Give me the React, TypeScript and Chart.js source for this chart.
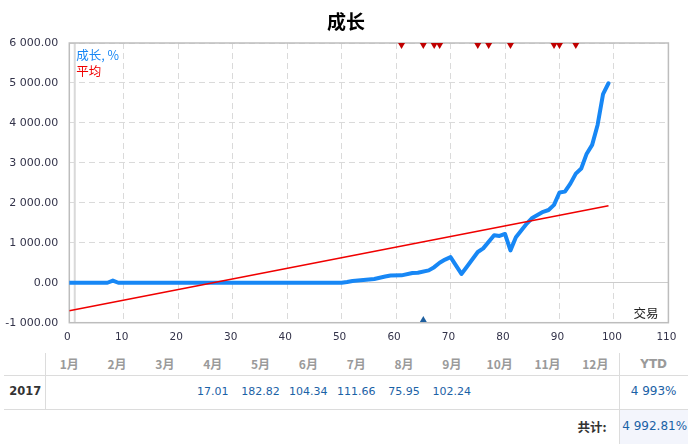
import React, { useEffect, useRef } from "react";
import { Chart, registerables } from "chart.js";

Chart.register(...registerables);

// ---- data ----
const chartTitle = "成长";
const growthLabel = "成长, %";
const averageLabel = "平均";
const tradeLabel = "交易";

const growthX = [0, 7, 8, 9, 50, 51, 52, 54, 56, 58, 59, 61, 63, 64, 66, 67, 68, 69, 70, 72, 73, 75, 76, 78, 79, 80, 81, 82, 84, 85, 87, 88, 89, 90, 91, 92, 93, 94, 95, 96, 97, 98, 99];
const growthY = [0, 0, 55, 0, 0, 20, 45, 67, 95, 155, 180, 185, 245, 250, 310, 390, 500, 580, 640, 220, 400, 770, 860, 1190, 1170, 1220, 810, 1140, 1480, 1620, 1775, 1820, 1950, 2260, 2280, 2480, 2730, 2860, 3230, 3450, 3950, 4720, 4993];

const averageX = [0, 99];
const averageY = [-700, 1925];

const sellTradeX = [61, 65, 67, 68, 75, 77, 81, 89, 90, 93];
const sellTradeLevel = 5950;
const buyTradeX = [65];
const buyTradeLevel = -935;
const firstDayX = 1;

const xMin = 0;
const xMax = 110;
const xStep = 10;
const yMin = -1000;
const yMax = 6000;
const yStep = 1000;

const months = ["1月", "2月", "3月", "4月", "5月", "6月", "7月", "8月", "9月", "10月", "11月", "12月"];
const rowYear = "2017";
const monthValues = ["", "", "", "17.01", "182.82", "104.34", "111.66", "75.95", "102.24", "", "", ""];
const ytdHeader = "YTD";
const ytdValue = "4 993%";
const totalLabel = "共计:";
const totalValue = "4 992.81%";

// ---- helpers ----
const fmt = (v: number) => {
  const s = Math.abs(v).toFixed(2);
  const [i, d] = s.split(".");
  const ii = i.replace(/\B(?=(\d{3})+(?!\d))/g, " ");
  return (v < 0 ? "-" : "") + ii + "." + d;
};

const BLUE = "#1787f5";
const RED = "#f00000";
const CJK = '"Noto Sans CJK SC", "DejaVu Sans", sans-serif';
const NUM = '"DejaVu Sans", sans-serif';

const overlayPlugin = {
  id: "overlay",
  beforeDatasetsDraw(chart: any) {
    const { ctx, chartArea, scales } = chart;
    const { left, top, right, bottom } = chartArea;
    ctx.save();
    const px = scales.x.getPixelForValue(firstDayX);
    ctx.strokeStyle = "#d9d9d9";
    ctx.lineWidth = 2;
    ctx.beginPath();
    ctx.moveTo(px, top);
    ctx.lineTo(px, bottom);
    ctx.stroke();
    ctx.strokeStyle = "#bdbdbd";
    ctx.lineWidth = 1.5;
    ctx.strokeRect(left, top, right - left, bottom - top);
    ctx.restore();
  },
  afterDraw(chart: any) {
    const { ctx, chartArea } = chart;
    const { left, right, bottom } = chartArea;
    ctx.save();
    ctx.textBaseline = "middle";
    ctx.fillStyle = "#000";
    ctx.font = `bold 19px ${CJK}`;
    ctx.textAlign = "center";
    ctx.fillText(chartTitle, 346, 22);

    ctx.textAlign = "left";
    ctx.font = `12.5px ${CJK}`;
    ctx.fillStyle = BLUE;
    ctx.fillText(growthLabel, left + 7, 55);
    ctx.fillStyle = RED;
    ctx.fillText(averageLabel, left + 7, 71);

    ctx.fillStyle = "#222";
    ctx.textAlign = "right";
    ctx.font = `12.5px ${CJK}`;
    ctx.fillText(tradeLabel, right - 10, bottom - 9);
    ctx.restore();
  },
};

function ChartCanvas() {
  const ref = useRef<HTMLCanvasElement | null>(null);
  useEffect(() => {
    if (!ref.current) return;
    const chart = new Chart(ref.current, {
      type: "scatter",
      data: {
        datasets: [
          {
            label: "sell",
            data: sellTradeX.map((x) => ({ x, y: sellTradeLevel })),
            pointStyle: "triangle",
            rotation: 180,
            pointRadius: 4,
            pointHoverRadius: 4,
            backgroundColor: "#c00000",
            borderWidth: 0,
            clip: false,
          } as any,
          {
            label: "buy",
            data: buyTradeX.map((x) => ({ x, y: buyTradeLevel })),
            pointStyle: "triangle",
            rotation: 0,
            pointRadius: 4,
            pointHoverRadius: 4,
            backgroundColor: "#1d5f9f",
            borderWidth: 0,
            clip: false,
          } as any,
          {
            label: averageLabel,
            data: averageX.map((x, i) => ({ x, y: averageY[i] })),
            showLine: true,
            borderColor: RED,
            borderWidth: 1.6,
            pointRadius: 0,
            tension: 0,
          } as any,
          {
            label: growthLabel,
            data: growthX.map((x, i) => ({ x, y: growthY[i] })),
            showLine: true,
            borderColor: BLUE,
            borderWidth: 4,
            pointRadius: 0,
            tension: 0,
            borderJoinStyle: "round",
            borderCapStyle: "round",
          } as any,
        ],
      },
      options: {
        animation: false,
        responsive: false,
        devicePixelRatio: 1,
        layout: { padding: { top: 43, right: 27.6, bottom: 3.3, left: 0 } },
        plugins: {
          legend: { display: false },
          title: { display: false },
          tooltip: { enabled: false },
        },
        scales: {
          x: {
            type: "linear",
            min: xMin,
            max: xMax,
            afterFit: (s: any) => {
              s.height = 22;
            },
            ticks: {
              stepSize: xStep,
              padding: 8,
              labelOffset: -2,
              color: "#33334a",
              font: { family: NUM, size: 10.5 },
            },
            grid: { color: "#dadada", lineWidth: 1, drawTicks: false },
            border: { display: false, dash: [6, 4] },
          },
          y: {
            type: "linear",
            min: yMin,
            max: yMax,
            afterFit: (s: any) => {
              s.width = 69.3;
            },
            ticks: {
              stepSize: yStep,
              padding: 11,
              color: "#33334a",
              font: { family: NUM, size: 11 },
              callback: (v: any) => fmt(Number(v)),
            },
            grid: {
              color: (c: any) => (c.tick && c.tick.value === 0 ? "#cccccc" : "#dadada"),
              lineWidth: 1,
              drawTicks: false,
            },
            border: {
              display: false,
              dash: (c: any) => (c.tick && c.tick.value === 0 ? [] : [6, 4]),
            } as any,
          },
        },
      } as any,
      plugins: [overlayPlugin],
    });
    return () => chart.destroy();
  }, []);
  return <canvas ref={ref} width={696} height={348} style={{ display: "block" }} />;
}

const COL0 = 45.3;
const COLW = 47.83;
const YTD_L = 619.3;
const TABLE_R = 688;
const HEAD_T = 352.7;
const ROW1_T = 375.3;
const ROW2_T = 409;
const BOTTOM = 444;
const LINE = "#dcdcdc";

function cell(key: string, left: number, top: number, width: number, height: number, text: string, style: any) {
  return (
    <div
      key={key}
      style={{
        position: "absolute",
        left,
        top,
        width,
        height,
        lineHeight: `${height}px`,
        textAlign: "center",
        whiteSpace: "nowrap",
        ...style,
      }}
    >
      {text}
    </div>
  );
}

function PerfTable() {
  const els: any[] = [];
  // lines
  els.push(<div key="h1" style={{ position: "absolute", left: 4, top: ROW1_T, width: TABLE_R - 4, height: 1, background: LINE }} />);
  els.push(<div key="h2" style={{ position: "absolute", left: 4, top: ROW2_T, width: TABLE_R - 4, height: 1, background: LINE }} />);
  els.push(<div key="totbg" style={{ position: "absolute", left: YTD_L, top: ROW2_T + 1, width: TABLE_R - YTD_L, height: BOTTOM - ROW2_T - 1, background: "#f3f5fc" }} />);
  els.push(<div key="v1" style={{ position: "absolute", left: COL0, top: HEAD_T, width: 1, height: ROW2_T - HEAD_T, background: LINE }} />);
  els.push(<div key="v2" style={{ position: "absolute", left: YTD_L, top: HEAD_T, width: 1, height: BOTTOM - HEAD_T, background: LINE }} />);

  const headStyle = { fontFamily: CJK, fontWeight: "bold", fontSize: 12, color: "#9a9a9a" };
  const valStyle = { fontFamily: NUM, fontSize: 11, color: "#1b62a6" };
  months.forEach((m, i) => {
    els.push(cell("m" + i, COL0 + COLW * i, HEAD_T, COLW, ROW1_T - HEAD_T, m, headStyle));
    if (monthValues[i]) {
      els.push(cell("v" + i, COL0 + COLW * i, ROW1_T, COLW, ROW2_T - ROW1_T, monthValues[i], valStyle));
    }
  });
  els.push(cell("ytdh", YTD_L, HEAD_T, TABLE_R - YTD_L, ROW1_T - HEAD_T, ytdHeader, { ...headStyle, fontFamily: NUM }));
  els.push(cell("yr", 4, ROW1_T, COL0 - 4 + 1, ROW2_T - ROW1_T, rowYear, { fontFamily: NUM, fontWeight: "bold", fontSize: 11.5, color: "#333" }));
  els.push(cell("ytdv", YTD_L, ROW1_T, TABLE_R - YTD_L, ROW2_T - ROW1_T, ytdValue, { ...valStyle, fontSize: 12 }));
  els.push(
    <div
      key="totl"
      style={{
        position: "absolute",
        left: 400,
        width: 606.7 - 400,
        top: ROW2_T,
        height: BOTTOM - ROW2_T,
        lineHeight: `${BOTTOM - ROW2_T}px`,
        textAlign: "right",
        fontFamily: CJK,
        fontWeight: "bold",
        fontSize: 12.5,
        color: "#333",
      }}
    >
      {totalLabel}
    </div>
  );
  els.push(cell("totv", YTD_L + 1, ROW2_T, TABLE_R - YTD_L, BOTTOM - ROW2_T, totalValue, { ...valStyle, fontSize: 12 }));
  return <>{els}</>;
}

export default function App() {
  return (
    <div style={{ position: "absolute", left: 0, top: 0, width: 696, height: 444, background: "#fff", overflow: "hidden" }}>
      <div style={{ position: "absolute", left: 0, top: 0, width: 696, height: 348 }}>
        <ChartCanvas />
      </div>
      <PerfTable />
    </div>
  );
}
